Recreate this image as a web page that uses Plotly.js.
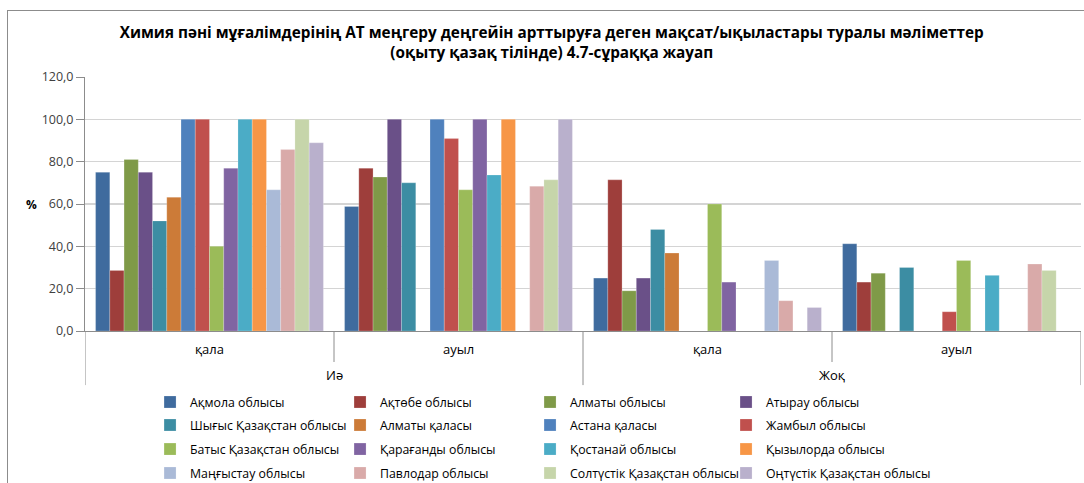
<!DOCTYPE html>
<html>
<head>
<meta charset="utf-8">
<script src="https://cdn.plot.ly/plotly-3.0.1.min.js"></script>
<style>
  html, body { margin: 0; padding: 0; background: #ffffff; overflow: hidden; }
  #frame { position: absolute; left: 7px; top: 10px; width: 1100px; height: 500px;
           border: 1px solid #8c8c8c; box-sizing: border-box; pointer-events: none; }
  #chart { position: absolute; left: 0; top: 0; width: 1084px; height: 483px; }
</style>
</head>
<body>
<div id="chart"></div>
<div id="frame"></div>
<script>
// ---- data ----
const outerCategories = ['Иә', 'Иә', 'Жоқ', 'Жоқ'];
const innerCategories = ['қала', 'ауыл', 'қала', 'ауыл'];

const regions = [
  'Ақмола облысы', 'Ақтөбе облысы', 'Алматы облысы', 'Атырау облысы',
  'Шығыс Қазақстан облысы', 'Алматы қаласы', 'Астана қаласы', 'Жамбыл облысы',
  'Батыс Қазақстан облысы', 'Қарағанды облысы', 'Қостанай облысы', 'Қызылорда облысы',
  'Маңғыстау облысы', 'Павлодар облысы', 'Солтүстік Қазақстан облысы', 'Оңтүстік Қазақстан облысы'
];

// values per region: [Иә/қала, Иә/ауыл, Жоқ/қала, Жоқ/ауыл]
const akmola      = [75.0, 58.8, 25.0, 41.2];
const aktobe      = [28.6, 76.9, 71.4, 23.1];
const almatyObl   = [81.0, 72.7, 19.0, 27.3];
const atyrau      = [75.0, 100.0, 25.0, null];
const eastKz      = [52.0, 70.0, 48.0, 30.0];
const almatyCity  = [63.2, null, 36.8, null];
const astanaCity  = [100.0, 100.0, null, null];
const zhambyl     = [100.0, 90.9, null, 9.1];
const westKz      = [40.0, 66.7, 60.0, 33.3];
const karaganda   = [76.9, 100.0, 23.1, null];
const kostanay    = [100.0, 73.7, null, 26.3];
const kyzylorda   = [100.0, 100.0, null, null];
const mangystau   = [66.7, null, 33.3, null];
const pavlodar    = [85.7, 68.4, 14.3, 31.6];
const northKz     = [100.0, 71.4, null, 28.6];
const southKz     = [88.9, 100.0, 11.1, null];

const seriesValues = [akmola, aktobe, almatyObl, atyrau, eastKz, almatyCity, astanaCity, zhambyl,
                      westKz, karaganda, kostanay, kyzylorda, mangystau, pavlodar, northKz, southKz];

const yTickValues = [0, 20, 40, 60, 80, 100, 120];

// ---- derived category keys (one per inner/outer pair) ----
const xKeys = innerCategories.map((c, i) => outerCategories[i] + ' / ' + c);
const outerGroups = [];
outerCategories.forEach((o, i) => {
  let g = outerGroups.find(gr => gr.name === o);
  if (!g) { g = { name: o, first: i, last: i }; outerGroups.push(g); }
  g.last = i;
});

// ---- styles ----
const colors = ['#3F6B9E', '#9E3E3B', '#7F9A48', '#6A5088', '#3C8DA3', '#CC7B38', '#4F81BD', '#C0504D',
                '#9BBB59', '#8064A2', '#4BACC6', '#F79646', '#AABAD7', '#D9AAA9', '#C6D5AA', '#B9B0CC'];
const legendIds = ['legend', 'legend2', 'legend3', 'legend4'];
const labelFont = { family: 'Open Sans, sans-serif', size: 13, color: '#000000' };
const dividerLine = { color: '#8c8c8c', width: 1 };
const innerLabelY = -0.071, outerLabelY = -0.173, innerDivY = -0.122, outerDivY = -0.213;

const traces = regions.map((name, i) => {
  const t = {
    type: 'bar',
    name: name,
    x: xKeys,
    y: seriesValues[i],
    marker: { color: colors[i], line: { color: 'rgba(255,255,255,0.35)', width: 0.6 } },
    legend: legendIds[Math.floor(i / 4)],
    hoverinfo: 'name+y'
  };
  if (i % 4 === 2) t.legendwidth = 151;
  if (i % 4 === 3) t.legendwidth = 200;
  return t;
});

const legendFont = { family: 'Open Sans, sans-serif', size: 12.3, color: '#000000' };
function makeLegend(yPaper) {
  return {
    orientation: 'h', x: 0.0653, xanchor: 'left', y: yPaper, yanchor: 'middle',
    entrywidth: 145, entrywidthmode: 'pixels', font: legendFont,
    bgcolor: 'rgba(0,0,0,0)', borderwidth: 0, traceorder: 'normal'
  };
}

// category labels (inner and outer level) placed on the x scale
const annotations = [];
xKeys.forEach((k, i) => annotations.push({
  text: innerCategories[i], xref: 'x', yref: 'paper', x: k, y: innerLabelY,
  xanchor: 'center', yanchor: 'middle', showarrow: false, font: labelFont
}));
outerGroups.forEach(g => annotations.push({
  text: g.name, xref: 'x', yref: 'paper', x: (g.first + g.last) / 2, y: outerLabelY,
  xanchor: 'center', yanchor: 'middle', showarrow: false, font: labelFont
}));
annotations.push({
  text: '<b>%</b>', xref: 'paper', yref: 'paper', x: -0.054, y: 0.5,
  xanchor: 'center', yanchor: 'middle', showarrow: false,
  font: { family: 'Open Sans, sans-serif', size: 12, color: '#000000' }
});

// dividers between categories: inner boundaries short, outer boundaries long
const shapes = [];
const outerBounds = new Set();
outerGroups.forEach(g => { outerBounds.add(g.first - 0.5); outerBounds.add(g.last + 0.5); });
for (let b = -0.5; b <= xKeys.length - 0.5; b += 1) {
  shapes.push({
    type: 'line', xref: 'x', yref: 'paper', x0: b, x1: b, y0: 0,
    y1: outerBounds.has(b) ? outerDivY : innerDivY, line: dividerLine
  });
}

const layout = {
  width: 1084, height: 483,
  margin: { l: 85, r: 3, t: 77, b: 152, autoexpand: false },
  paper_bgcolor: 'rgba(0,0,0,0)', plot_bgcolor: '#ffffff',
  separators: ', ',
  barmode: 'group', bargap: 0.085, bargroupgap: 0,
  showlegend: true,
  title: {
    text: 'Химия пәні мұғалімдерінің АТ меңгеру деңгейін арттыруға деген мақсат/ықыластары туралы мәліметтер<br>(оқыту қазақ тілінде) 4.7-сұраққа жауап',
    x: 0.509, xanchor: 'center', y: 0.921, yanchor: 'middle',
    font: { family: 'Open Sans, sans-serif', size: 15.3, color: '#000000', weight: 'bold' }
  },
  xaxis: {
    type: 'category', range: [-0.5, xKeys.length - 0.5],
    showline: true, linecolor: '#8c8c8c', linewidth: 1,
    showticklabels: false, ticks: '', showgrid: false, zeroline: false
  },
  yaxis: {
    range: [0, 120], tickvals: yTickValues, tickformat: '.1f',
    ticks: 'outside', ticklen: 8, tickcolor: '#8c8c8c',
    showline: true, linecolor: '#8c8c8c', linewidth: 1,
    showgrid: true, gridcolor: '#d4d4d4', gridwidth: 1.3,
    zeroline: false,
    tickfont: { family: 'Open Sans, sans-serif', size: 12.5, color: '#404040' }
  },
  annotations: annotations,
  shapes: shapes,
  legend: makeLegend(-0.2795),
  legend2: makeLegend(-0.370),
  legend3: makeLegend(-0.465),
  legend4: makeLegend(-0.559)
};

Plotly.newPlot('chart', traces, layout, { displayModeBar: false, staticPlot: true });
</script>
</body>
</html>
